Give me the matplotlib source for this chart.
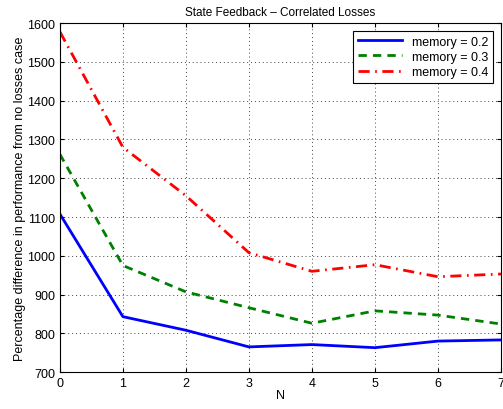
import numpy as np
import matplotlib
matplotlib.use("Agg")
import matplotlib.pyplot as plt

plt.rcParams['font.family'] = ['Liberation Sans', 'DejaVu Sans']

N = [0, 1, 2, 3, 4, 5, 6, 7]
mem02 = [1108, 843, 808, 765, 771, 763, 780, 783]
mem03 = [1262, 975, 907, 866, 826, 858, 847, 824]
mem04 = [1578, 1280, 1155, 1008, 960, 977, 946, 953]

fig = plt.figure(figsize=(5.03, 4.10), dpi=100)
ax = fig.add_axes([0.119, 0.090, 0.877, 0.851])

ax.plot(N, mem02, 'b-', lw=2, label='memory = 0.2')
ax.plot(N, mem03, color='#008000', ls=(0, (3, 2.2)), lw=2, label='memory = 0.3')
ax.plot(N, mem04, 'r', ls=(0, (4, 2, 0.6, 2)), lw=2, label='memory = 0.4')

ax.set_xlim(0, 7)
ax.set_ylim(700, 1600)
ax.set_xticks(range(8))
ax.set_yticks(range(700, 1601, 100))
ax.grid(True, ls=(0, (1, 3)), color='#444444', lw=0.7)
ax.tick_params(direction='in', top=True, right=True, labelsize=9, length=3)
for s in ax.spines.values():
    s.set_linewidth(0.8)

ax.set_xlabel('N', fontsize=9, labelpad=0)
ax.set_ylabel('Percentage difference in performance from no losses case', fontsize=9, labelpad=1)
ax.set_title('State Feedback \u2013 Correlated Losses', fontsize=8.5, pad=6)

leg = ax.legend(loc='upper right', fontsize=9, fancybox=False, framealpha=1,
                edgecolor='k', handlelength=3.5, borderaxespad=0.6,
                labelspacing=0.25, borderpad=0.4)
leg.get_frame().set_linewidth(0.8)

fig.savefig('out.png', dpi=100)
